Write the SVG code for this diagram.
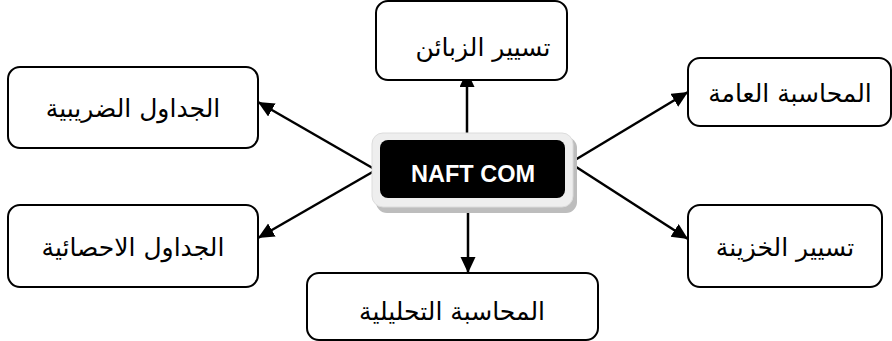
<svg xmlns="http://www.w3.org/2000/svg" width="892" height="341" viewBox="0 0 892 341">
<style>
.box{fill:#fff;stroke:#000;stroke-width:2}
.ar{font-family:"DejaVu Sans","Noto Sans",sans-serif;font-size:25px;fill:#000;text-anchor:middle;direction:rtl}
.conn{stroke:#000;stroke-width:2.5;fill:none;marker-end:url(#ah)}
.hub{font-family:"Liberation Sans",Arial,sans-serif;font-weight:bold;font-size:23.5px;fill:#fff;text-anchor:middle}
</style>
<defs>
<marker id="ah" markerUnits="userSpaceOnUse" markerWidth="17" markerHeight="16" refX="16" refY="7.5" orient="auto">
<path d="M0,0 L16,7.5 L0,15 z" fill="#000"/>
</marker>
</defs>
<rect width="892" height="341" fill="#fff"/>
<g id="connectors">
<line class="conn" x1="467" y1="135" x2="467" y2="71"/>
<line class="conn" x1="468" y1="205" x2="468" y2="273"/>
<line class="conn" x1="376" y1="170" x2="258" y2="102"/>
<line class="conn" x1="376" y1="170" x2="258" y2="238"/>
<line class="conn" x1="570" y1="163" x2="688" y2="92"/>
<line class="conn" x1="570" y1="163" x2="688" y2="239"/>
</g>
<g id="n-top">
<rect class="box" x="376" y="1" width="191" height="79" rx="12"/>
<text class="ar" x="483" y="56">تسيير الزبائن</text>
</g>
<g id="n-lefttop">
<rect class="box" x="8" y="67" width="250" height="81" rx="12"/>
<text class="ar" x="133" y="117">الجداول الضريبية</text>
</g>
<g id="n-leftbottom">
<rect class="box" x="8" y="205" width="250" height="82" rx="12"/>
<text class="ar" x="133" y="256">الجداول الاحصائية</text>
</g>
<g id="n-righttop">
<rect class="box" x="688" y="58" width="203" height="68" rx="12"/>
<text class="ar" x="790" y="102">المحاسبة العامة</text>
</g>
<g id="n-rightbottom">
<rect class="box" x="688" y="205" width="194" height="82" rx="12"/>
<text class="ar" x="785" y="256">تسيير الخزينة</text>
</g>
<g id="n-bottom">
<rect class="box" x="307" y="273" width="291" height="67" rx="12"/>
<text class="ar" x="452" y="320">المحاسبة التحليلية</text>
</g>
<g id="n-center">
<rect x="376" y="137" width="201" height="76" rx="11" fill="#bdbdbd"/>
<rect x="372" y="133" width="201" height="74" rx="11" fill="#eeeeee" stroke="#dcdcdc" stroke-width="1"/>
<rect x="380" y="140" width="185" height="58" rx="8" fill="#000"/>
<text class="hub" x="473" y="182">NAFT COM</text>
</g>
</svg>
